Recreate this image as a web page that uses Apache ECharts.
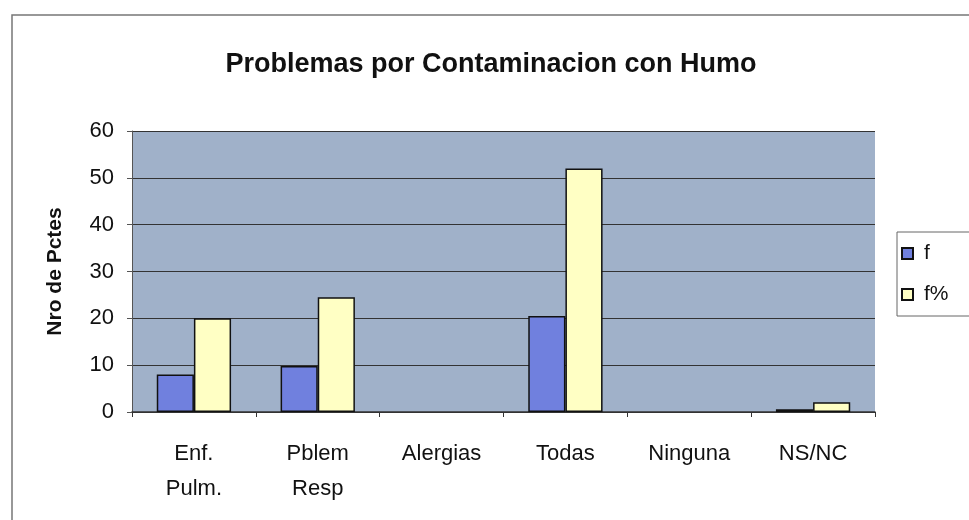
<!DOCTYPE html>
<html>
<head>
<meta charset="utf-8">
<script src="https://cdn.jsdelivr.net/npm/echarts@6/dist/echarts.min.js"></script>
<style>
  html, body { margin: 0; padding: 0; background: #fff; }
  #chart { width: 969px; height: 520px; }
</style>
</head>
<body>
<div id="chart"></div>
<script>
  // datos
  const categorias = ['Enf.\nPulm.', 'Pblem\nResp', 'Alergias', 'Todas', 'Ninguna', 'NS/NC'];
  const serieF = [8, 9.8, 0, 20.5, 0, 0.6];
  const serieFPct = [20, 24.5, 0, 52, 0, 2.1];
  const nombres = ['f', 'f%'];

  const fuente = '"Liberation Sans", Arial, sans-serif';
  const chart = echarts.init(document.getElementById('chart'));

  // las barras en cero no llevan borde (como en Excel)
  function barras(valores) {
    return valores.map(v => ({ value: v, itemStyle: { borderWidth: v ? 1.5 : 0 } }));
  }

  chart.setOption({
    animation: false,
    backgroundColor: '#fff',
    textStyle: { fontFamily: fuente, color: '#111' },
    graphic: [{
      type: 'rect',
      shape: { x: 12, y: 15, width: 980, height: 540 },
      style: { fill: 'none', stroke: '#777', lineWidth: 1.5 },
      silent: true
    }],
    title: {
      text: 'Problemas por Contaminacion con Humo',
      left: 486,
      textAlign: 'center',
      top: 46,
      textStyle: { fontFamily: fuente, fontSize: 27, fontWeight: 'bold', color: '#111' }
    },
    legend: {
      orient: 'vertical',
      left: 897,
      top: 232,
      padding: [11, 21, 11, 4],
      itemGap: 20,
      itemWidth: 11,
      itemHeight: 11,
      icon: 'rect',
      borderColor: '#666',
      borderWidth: 1,
      backgroundColor: '#fff',
      textStyle: { fontFamily: fuente, fontSize: 21, color: '#111', padding: [0, 0, 0, 6] },
      data: nombres
    },
    grid: {
      left: 132,
      right: 94,
      top: 131,
      bottom: 108,
      show: true,
      backgroundColor: '#a0b1c9',
      borderWidth: 0
    },
    xAxis: {
      type: 'category',
      data: categorias,
      axisLine: { lineStyle: { color: '#333', width: 1.5 } },
      axisTick: { show: true, length: 5, lineStyle: { color: '#333' } },
      axisLabel: {
        fontFamily: fuente,
        fontSize: 22,
        color: '#111',
        lineHeight: 35,
        margin: 24,
        interval: 0
      }
    },
    yAxis: {
      type: 'value',
      min: 0,
      max: 60,
      interval: 10,
      name: 'Nro de Pctes',
      nameLocation: 'middle',
      nameGap: 66,
      nameTextStyle: { fontFamily: fuente, fontSize: 21, fontWeight: 'bold', color: '#111' },
      axisLine: { show: true, lineStyle: { color: '#555' } },
      axisTick: { show: true, length: 5, lineStyle: { color: '#555' } },
      axisLabel: { fontFamily: fuente, fontSize: 22, color: '#111', margin: 18 },
      splitLine: { lineStyle: { color: '#333', width: 1.2 } }
    },
    series: [
      {
        name: nombres[0],
        type: 'bar',
        data: barras(serieF),
        barGap: '0%',
        barCategoryGap: '40%',
        itemStyle: { color: '#7080de', borderColor: '#111', borderWidth: 1.5 }
      },
      {
        name: nombres[1],
        type: 'bar',
        data: barras(serieFPct),
        barGap: '0%',
        barCategoryGap: '40%',
        itemStyle: { color: '#ffffc4', borderColor: '#111', borderWidth: 1.5 }
      }
    ]
  });
</script>
</body>
</html>
